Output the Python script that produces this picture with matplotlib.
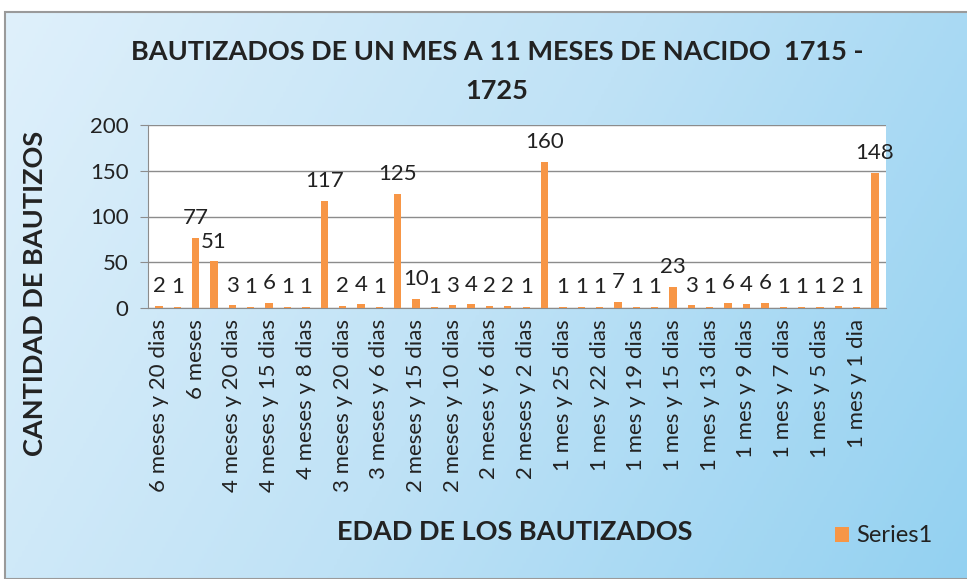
import matplotlib

matplotlib.use("Agg")
import matplotlib.pyplot as plt
import numpy as np
from matplotlib.patches import Rectangle

# 40 categories, only every other one is labelled in the original chart
edades = [
    "6 meses y 20 dias", "", "6 meses", "", "4 meses y 20 dias", "",
    "4 meses y 15 dias", "", "4 meses y 8 dias", "", "3 meses y 20 dias", "",
    "3 meses y 6 dias", "", "2 meses y 15 dias", "", "2 meses y 10 dias", "",
    "2 meses y 6 dias", "", "2 meses y 2 dias", "", "1 mes y 25 dias", "",
    "1 mes y 22 dias", "", "1 mes y 19 dias", "", "1 mes y 15 dias", "",
    "1 mes y 13 dias", "", "1 mes y 9 dias", "", "1 mes y 7 dias", "",
    "1 mes y 5 dias", "", "1 mes y 1 dia", "",
]
bautizos = [2, 1, 77, 51, 3, 1, 6, 1, 1, 117, 2, 4, 1, 125, 10, 1, 3, 4, 2, 2,
            1, 160, 1, 1, 1, 7, 1, 1, 23, 3, 1, 6, 4, 6, 1, 1, 1, 2, 1, 148]
yticks = [0, 50, 100, 150, 200]

ORANGE = "#F79646"
FONT = "Lato"

fig = plt.figure(figsize=(9.67, 5.79), dpi=100, facecolor="white")

# gradient background panel (light top-left, deeper blue bottom-right)
bg = fig.add_axes([5 / 967, 0, 1, 1 - 12 / 579])
gx, gy = np.meshgrid(np.linspace(0, 1, 300), np.linspace(0, 1, 200))
grad = 0.75 * gx + 0.25 * gy
bg.imshow(grad, aspect="auto", extent=[0, 1, 0, 1], origin="upper",
          cmap=matplotlib.colors.LinearSegmentedColormap.from_list(
              "bg", ["#dff0fb", "#bfe2f6", "#93d1f1"]))
bg.set_xlim(0, 1)
bg.set_ylim(0, 1)
bg.axis("off")
bg.add_patch(Rectangle((0, 0), 1, 1, transform=bg.transAxes, fill=False,
                       edgecolor="#9a9a9a", lw=1.5, clip_on=False))

ax = fig.add_axes([148 / 967, 1 - 308 / 579, (886 - 148) / 967, (308 - 125) / 579])
ax.set_facecolor("white")
x = np.arange(len(bautizos))
ax.bar(x, bautizos, width=0.4, color=ORANGE, zorder=3, label="Series1")
for xi, v in zip(x, bautizos):
    ax.annotate(str(v), (xi, v), xytext=(0, 7), textcoords="offset points",
                ha="center", va="bottom", fontsize=16, family=FONT, color="#222222")

ax.set_xlim(-0.6, len(bautizos) - 0.4)
ax.set_ylim(0, 200)
ax.set_yticks(yticks)
ax.set_yticklabels([str(t) for t in yticks], fontsize=16, family=FONT, color="#222222")
ax.yaxis.grid(True, color="#8c8c8c", lw=1, zorder=0)
ax.set_xticks(x[::2])
ax.set_xticklabels(edades[::2], rotation=90, fontsize=16, family=FONT, color="#222222")
ax.tick_params(axis="x", length=0, pad=8)
ax.tick_params(axis="y", length=6, color="#8c8c8c", pad=8)
for s in ["top", "right"]:
    ax.spines[s].set_visible(False)
ax.spines["left"].set_color("#8c8c8c")
ax.spines["bottom"].set_color("#8c8c8c")

fig.text(0.514, 0.91, "BAUTIZADOS DE UN MES A 11 MESES DE NACIDO  1715 -",
         ha="center", va="center", fontsize=19.5, fontweight="bold", family=FONT,
         color="#222222")
fig.text(0.514, 0.842, "1725", ha="center", va="center", fontsize=19.5,
         fontweight="bold", family=FONT, color="#222222")
fig.text(0.036, 0.494, "CANTIDAD DE BAUTIZOS", rotation=90, ha="center",
         va="center", fontsize=19.5, fontweight="bold", family=FONT, color="#222222")
fig.text(0.532, 0.081, "EDAD DE LOS BAUTIZADOS", ha="center", va="center",
         fontsize=19.5, fontweight="bold", family=FONT, color="#222222")

fig.legend(loc="center", bbox_to_anchor=(884 / 967, 1 - 536 / 579), frameon=False,
           prop={"family": FONT, "size": 17}, handlelength=0.6, handleheight=0.6,
           handletextpad=0.3, labelcolor="#222222")

fig.savefig("out.png", dpi=100)
plt.close(fig)
